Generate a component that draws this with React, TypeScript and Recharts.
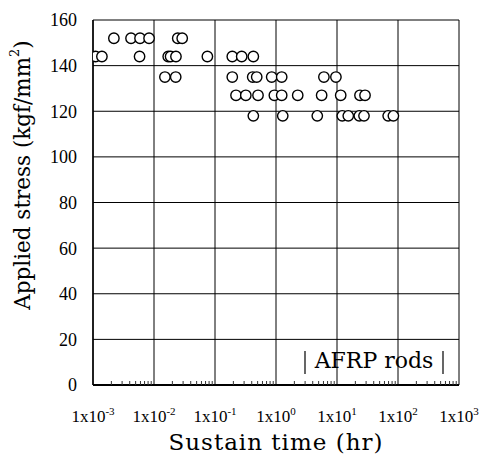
import React from 'react';
import { ScatterChart, Scatter, XAxis, YAxis, CartesianGrid, Customized, Label } from 'recharts';

// Sustain time (hr) values, grouped by applied stress level
const stressLevels = [152, 144, 135, 127, 118];
const times152 = [0.0022, 0.0042, 0.0059, 0.0083, 0.0245, 0.029];
const times144 = [0.0011, 0.0014, 0.0058, 0.0171, 0.0187, 0.0229, 0.075, 0.192, 0.274, 0.425];
const times135 = [0.0151, 0.0227, 0.192, 0.415, 0.483, 0.85, 1.24, 6.1, 9.6];
const times127 = [0.221, 0.32, 0.507, 0.94, 1.24, 2.27, 5.6, 11.5, 23.8, 28.8];
const times118 = [0.425, 1.29, 4.75, 12.2, 15.3, 23.2, 27.7, 69, 84];

const xTicks = [0.001, 0.01, 0.1, 1, 10, 100, 1000];
const xMinorTicks = [
  0.002, 0.003, 0.004, 0.005, 0.006, 0.007, 0.008, 0.009,
  0.02, 0.03, 0.04, 0.05, 0.06, 0.07, 0.08, 0.09,
  0.2, 0.3, 0.4, 0.5, 0.6, 0.7, 0.8, 0.9,
  2, 3, 4, 5, 6, 7, 8, 9,
  20, 30, 40, 50, 60, 70, 80, 90,
  200, 300, 400, 500, 600, 700, 800, 900,
];
const yTicks = [0, 20, 40, 60, 80, 100, 120, 140, 160];

const groups = [times152, times144, times135, times127, times118];
const data = groups.flatMap((ts, i) => ts.map((t) => ({ time: t, stress: stressLevels[i] })));

const SERIF = '"Liberation Serif", "Times New Roman", serif';
const TITLE_FONT = '"DejaVu Serif", serif';

const XTick = (props: any) => {
  const { x, y, payload } = props;
  const e = Math.round(Math.log10(payload.value));
  return (
    <text x={x} y={y + 29} textAnchor="middle" fontFamily={SERIF} fontSize={17} fill="#000">
      1x10
      <tspan dy={-7} fontSize={11}>{e}</tspan>
    </text>
  );
};

const MinorTick = (props: any) => {
  const { x } = props;
  return <line x1={x} y1={385} x2={x} y2={381} stroke="#333" strokeWidth={1} />;
};

const Circle = (props: any) => {
  const { cx, cy } = props;
  if (cx == null || cy == null) return null;
  return <circle cx={cx} cy={cy} r={5.2} fill="#fff" stroke="#000" strokeWidth={1.4} />;
};

const Extras = () => (
  <g>
    <text
      transform="rotate(-90, 22, 175)"
      x={22}
      y={175}
      textAnchor="middle"
      dominantBaseline="central"
      fontFamily={TITLE_FONT}
      fontSize={21.5}
      fill="#000"
    >
      Applied stress (kgf/mm
      <tspan dy={-8} fontSize={13}>2</tspan>
      <tspan dy={8}>)</tspan>
    </text>
    <line x1={305} y1={351} x2={305} y2={374} stroke="#000" strokeWidth={1.2} />
    <line x1={443} y1={351} x2={443} y2={374} stroke="#000" strokeWidth={1.2} />
    <text x={374} y={368} textAnchor="middle" fontFamily={TITLE_FONT} fontSize={22} fill="#000">
      AFRP rods
    </text>
  </g>
);

export default function App() {
  return (
    <div style={{ position: 'absolute', left: 0, top: 0, background: '#fff' }}>
      <ScatterChart width={479} height={464} margin={{ top: 20, right: 20, bottom: 0, left: 0 }}>
        <CartesianGrid stroke="#000" strokeWidth={1} />
        <XAxis
          xAxisId="minor"
          type="number"
          dataKey="time"
          scale="log"
          domain={[0.001, 1000]}
          ticks={xMinorTicks}
          tick={<MinorTick />}
          tickLine={false}
          axisLine={false}
          height={1}
          interval={0}
          allowDataOverflow
        />
        <XAxis
          type="number"
          dataKey="time"
          scale="log"
          domain={[0.001, 1000]}
          ticks={xTicks}
          tick={<XTick />}
          tickLine={false}
          axisLine={{ stroke: '#000', strokeWidth: 2 }}
          height={78}
          interval={0}
          allowDataOverflow
        >
          <Label
            value="Sustain time (hr)"
            position="insideBottom"
            offset={13}
            style={{ fontFamily: TITLE_FONT, fontSize: 23, letterSpacing: 1, fill: '#000' }}
          />
        </XAxis>
        <YAxis
          type="number"
          dataKey="stress"
          domain={[0, 160]}
          ticks={yTicks}
          tick={{ fill: '#000', fontSize: 18, fontFamily: SERIF }}
          tickLine={false}
          tickMargin={10}
          axisLine={{ stroke: '#000', strokeWidth: 1.5 }}
          width={93}
          interval={0}
        />
        <Scatter data={data} shape={<Circle />} isAnimationActive={false} />
        <Customized component={Extras} />
      </ScatterChart>
    </div>
  );
}
